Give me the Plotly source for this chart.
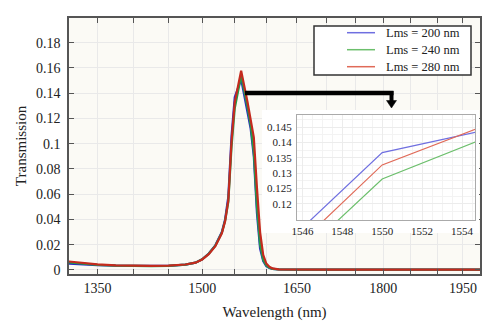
import plotly.graph_objects as go

# ---------------- data ----------------
wavelength = [1310, 1330, 1350, 1375, 1400, 1425, 1450, 1475, 1490, 1500, 1510, 1520,
              1530, 1535, 1540, 1545, 1550, 1560, 1570, 1575, 1580, 1585, 1590, 1595,
              1600, 1605, 1610, 1620, 1650, 1700, 1750, 1800, 1850, 1900, 1950, 2000]

t_200 = [0.0050, 0.0043, 0.0038, 0.0034, 0.0032, 0.0031, 0.0033, 0.0042, 0.0058, 0.0085, 0.0130, 0.0195,
         0.0300, 0.0400, 0.0580, 0.1060, 0.1367, 0.1510, 0.1260, 0.1120, 0.0900, 0.0450, 0.0170, 0.0070,
         0.0030, 0.0015, 0.0008, 0.0004, 0.0002, 0.0002, 0.0002, 0.0002, 0.0002, 0.0002, 0.0002, 0.0002]

t_240 = [0.0060, 0.0049, 0.0041, 0.0035, 0.0032, 0.0031, 0.0033, 0.0042, 0.0058, 0.0084, 0.0128, 0.0192,
         0.0295, 0.0390, 0.0540, 0.0976, 0.1281, 0.1540, 0.1290, 0.1150, 0.0930, 0.0500, 0.0200, 0.0080,
         0.0035, 0.0018, 0.0009, 0.0004, 0.0002, 0.0002, 0.0002, 0.0002, 0.0002, 0.0002, 0.0002, 0.0002]

t_280 = [0.0068, 0.0054, 0.0044, 0.0037, 0.0033, 0.0032, 0.0034, 0.0043, 0.0058, 0.0083, 0.0125, 0.0188,
         0.0290, 0.0385, 0.0550, 0.1017, 0.1327, 0.1577, 0.1330, 0.1200, 0.1050, 0.0650, 0.0300, 0.0120,
         0.0050, 0.0025, 0.0012, 0.0005, 0.0002, 0.0002, 0.0002, 0.0002, 0.0002, 0.0002, 0.0002, 0.0002]

series_names = ["Lms = 200 nm", "Lms = 240 nm", "Lms = 280 nm"]
main_colors = ["#2a2ac0", "#1f9e4a", "#c42a1e"]
inset_colors = ["#6f6fe0", "#6cbf6c", "#e06a58"]

x_tick_vals = [1350, 1400, 1450, 1500, 1550, 1600, 1650, 1700, 1750, 1800, 1850, 1900, 1950]
x_tick_text = ["1350", "", "", "1500", "", "", "1650", "", "", "1800", "", "", "1950"]
y_tick_vals = [0, 0.02, 0.04, 0.06, 0.08, 0.1, 0.12, 0.14, 0.16, 0.18]
y_tick_text = ["0", "0.02", "0.04", "0.06", "0.08", "0.1", "0.12", "0.14", "0.16", "0.18"]

inset_x_ticks = [1546, 1548, 1550, 1552, 1554]
inset_y_vals = [0.12, 0.125, 0.13, 0.135, 0.14, 0.145]
inset_y_text = ["0.12", "0.125", "0.13", "0.135", "0.14", "0.145"]

# ---------------- geometry helpers (pixel -> paper) ----------------
W, H = 500, 333
L, R, T, B = 69, 480, 18, 274


def px(x):
    return (x - L) / (R - L)


def py(y):
    return (B - y) / (B - T)


FONT = "Liberation Serif"
series = [t_200, t_240, t_280]

fig = go.Figure()

# main traces
for name, ys, c in zip(series_names, series, main_colors):
    fig.add_trace(go.Scatter(x=wavelength, y=ys, mode="lines", name=name,
                             line=dict(color=c, width=2.2), showlegend=False,
                             xaxis="x", yaxis="y"))

# dummy subplot providing white backing behind inset (incl. labels)
fig.add_trace(go.Scatter(x=[None], y=[None], xaxis="x2", yaxis="y2",
                         showlegend=False, hoverinfo="skip"))

# inset traces
for name, ys, c in zip(series_names, series, inset_colors):
    fig.add_trace(go.Scatter(x=wavelength, y=ys, mode="lines", name=name,
                             line=dict(color=c, width=1.2), showlegend=False,
                             xaxis="x3", yaxis="y3"))

axis_col = "#555555"
grid_col = "#e9e9e9"

fig.update_layout(
    width=W, height=H,
    margin=dict(l=L, r=W - R, t=T, b=H - B),
    paper_bgcolor="white",
    plot_bgcolor="white",
    font=dict(family=FONT, color="#222222", size=14),
    showlegend=False,
    xaxis=dict(type="log", range=[3.1179, 3.2975], domain=[0, 1],
               tickvals=x_tick_vals, ticktext=x_tick_text,
               ticks="inside", ticklen=5, tickcolor=axis_col, tickwidth=1.2,
               showline=True, linecolor=axis_col, linewidth=1.5, mirror="allticks",
               showgrid=True, gridcolor=grid_col, gridwidth=1, zeroline=False,
               tickfont=dict(size=14),
               title=dict(text="Wavelength (nm)", font=dict(size=15), standoff=12)),
    yaxis=dict(range=[-0.0032, 0.1995], domain=[0, 1],
               tickvals=y_tick_vals, ticktext=y_tick_text,
               ticks="inside", ticklen=5, tickcolor=axis_col, tickwidth=1.2,
               showline=True, linecolor=axis_col, linewidth=1.5, mirror="allticks",
               showgrid=True, gridcolor=grid_col, gridwidth=1, zeroline=False,
               tickfont=dict(size=14), ticklabelstandoff=4,
               title=dict(text="Transmission", font=dict(size=15), standoff=6)),
    xaxis2=dict(domain=[px(262), px(479)], anchor="y2", visible=False, range=[0, 1]),
    yaxis2=dict(domain=[py(233), py(110)], anchor="x2", visible=False, range=[0, 1]),
    xaxis3=dict(domain=[px(297), px(475)], anchor="y3", range=[1545.73, 1554.65],
                tickvals=inset_x_ticks, ticks="", showline=True, linecolor="#aaaaaa",
                linewidth=1, mirror=True, showgrid=True, gridcolor="#ececec",
                minor=dict(dtick=0.5, showgrid=True, gridcolor="#f3f3f3"),
                zeroline=False, tickfont=dict(size=11), ticklabelstandoff=1),
    yaxis3=dict(domain=[py(220), py(115)], anchor="x3", range=[0.1147, 0.149],
                tickvals=inset_y_vals, ticktext=inset_y_text, ticks="",
                showline=True, linecolor="#aaaaaa", linewidth=1, mirror=True,
                showgrid=True, gridcolor="#ececec",
                minor=dict(dtick=0.0025, showgrid=True, gridcolor="#f3f3f3"),
                zeroline=False, tickfont=dict(size=11), ticklabelstandoff=2),
)

shapes = [
    # cream plot background for main chart (below grid/traces)
    dict(type="rect", xref="paper", yref="paper", x0=0, x1=1, y0=0, y1=1,
         fillcolor="#fbfaf5", line=dict(width=0), layer="below"),
    # legend box
    dict(type="rect", xref="paper", yref="paper", x0=px(314), x1=px(471),
         y0=py(75), y1=py(26), fillcolor="white",
         line=dict(color="#333333", width=1.5), layer="above"),
    # arrow: horizontal bar
    dict(type="line", xref="paper", yref="paper", x0=px(245), x1=px(393.5),
         y0=py(93), y1=py(93), line=dict(color="black", width=4.5), layer="above"),
    # arrow: vertical shaft
    dict(type="line", xref="paper", yref="paper", x0=px(391.5), x1=px(391.5),
         y0=py(91), y1=py(102), line=dict(color="black", width=4), layer="above"),
    # arrow head
    dict(type="path", xref="paper", yref="paper",
         path=f"M {px(386.5)} {py(100.5)} L {px(396.5)} {py(100.5)} L {px(391.5)} {py(108)} Z",
         fillcolor="black", line=dict(color="black", width=0.5), layer="above"),
]

# legend (drawn manually): sample lines + labels
legend_rows = [32.7, 49.7, 66.7]
annotations = []
for name, c, yrow in zip(series_names, inset_colors, legend_rows):
    shapes.append(dict(type="line", xref="paper", yref="paper",
                       x0=px(347), x1=px(375), y0=py(yrow), y1=py(yrow),
                       line=dict(color=c, width=1.5), layer="above"))
    annotations.append(dict(xref="paper", yref="paper", x=px(384), y=py(yrow),
                            xanchor="left", yanchor="middle", text=name, showarrow=False,
                            font=dict(size=12.5, family=FONT, color="#222222")))

fig.update_layout(shapes=shapes, annotations=annotations)

fig.write_html("out.html")
